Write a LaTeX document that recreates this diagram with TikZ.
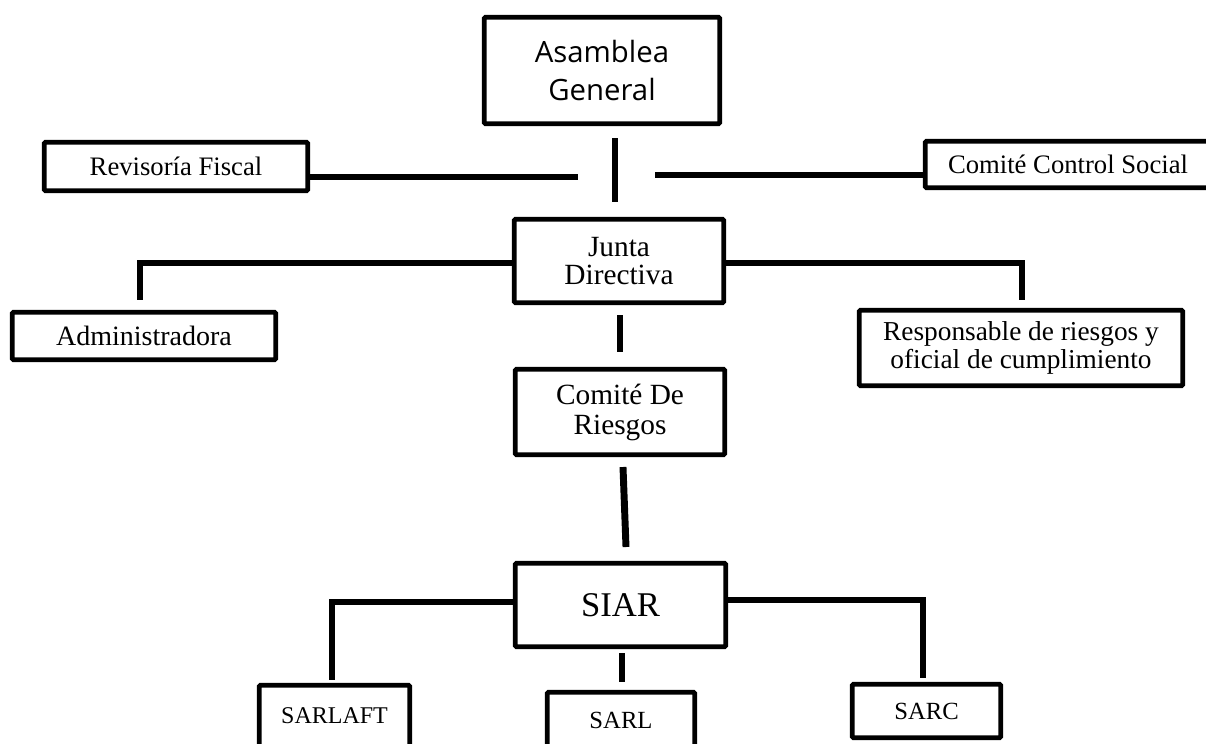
\documentclass[tikz,border=0pt]{standalone}
\usepackage{fontspec}
\setmainfont{Liberation Serif}
\newfontfamily\asamfont{Open Sans}
\usetikzlibrary{positioning}

\begin{document}
\begin{tikzpicture}[x=0.75pt,y=-0.75pt,
  orgbox/.style={draw,line width=3.4pt,rounded corners=0.8pt,inner sep=0pt,align=center},
  boxsize/.style 2 args={minimum width=#1*0.75pt,minimum height=#2*0.75pt},
  conn/.style={line width=5.2pt}]
\useasboundingbox (0,0) rectangle (1206,743);
\clip (0,0) rectangle (1206,743);

% boxes
\node[orgbox,boxsize={235.5}{106.5},font=\asamfont\fontsize{22}{28}\selectfont] (asam) at (602,70.5) {Asamblea\\General};
\node[orgbox,boxsize={263.5}{48.5},font=\fontsize{20}{22}\selectfont] (revis) at (176,166.5) {Revisoría Fiscal};
\node[orgbox,boxsize={285.5}{46.5},font=\fontsize{20}{22}\selectfont] (control) at (1068,164.5) {Comité Control Social};
\node[orgbox,boxsize={209.5}{83.5},font=\fontsize{22}{21.5}\selectfont] (junta) at (619,261) {Junta\\Directiva};
\node[orgbox,boxsize={263.5}{47.5},font=\fontsize{21}{22}\selectfont] (admin) at (144,336) {Administradora};
\node[orgbox,boxsize={323.5}{75.5},font=\fontsize{20.5}{20.5}\selectfont] (resp) at (1021,348) {Responsable de riesgos y\\oficial de cumplimiento};
\node[orgbox,boxsize={209.5}{85.5},font=\fontsize{22}{22.5}\selectfont] (riesgos) at (620,412) {Comité De\\Riesgos};
\node[orgbox,boxsize={210.5}{83.5},font=\fontsize{26}{26}\selectfont] (siar) at (620.5,605) {SIAR};
\node[orgbox,boxsize={150.5}{61.5},font=\fontsize{18}{19}\selectfont] (sarlaft) at (334.5,716) {SARLAFT};
\node[orgbox,boxsize={147.5}{55.5},font=\fontsize{18.5}{20}\selectfont] (sarl) at (621,720) {SARL};
\node[orgbox,boxsize={148.5}{53.5},font=\fontsize{18.5}{19}\selectfont] (sarc) at (926.5,711) {SARC};

% free ends of the connectors
\coordinate (rvEnd) at (578,177);
\coordinate (ccEnd) at (655,175);
\coordinate (asTop) at (615,138);
\coordinate (asBot) at (615,202);
\coordinate (jLine) at (0,263);
\coordinate (adTop) at (140,300);
\coordinate (rsTop) at (1022,300);
\coordinate (riTop) at (620,315);
\coordinate (riBot) at (620,352);
\coordinate (siTop) at (623,467);
\coordinate (siBot) at (626,547);
\coordinate (sLeft) at (0,602);
\coordinate (sRight) at (0,600);
\coordinate (sfTop) at (332,680);
\coordinate (scTop) at (923,678);
\coordinate (slTop) at (622,653);
\coordinate (slBot) at (622,682);

% connectors
\draw[conn] (revis.east |- rvEnd) -- (rvEnd);
\draw[conn] (ccEnd) -- (control.west |- ccEnd);
\draw[conn] (asTop) -- (asBot);
\draw[conn] (junta.west |- jLine) -| (adTop);
\draw[conn] (junta.east |- jLine) -| (rsTop);
\draw[conn] (riTop) -- (riBot);
\draw[conn] (siTop) -- (siBot);
\draw[conn] (siar.west |- sLeft) -| (sfTop);
\draw[conn] (siar.east |- sRight) -| (scTop);
\draw[conn] (slTop) -- (slBot);
\end{tikzpicture}
\end{document}
